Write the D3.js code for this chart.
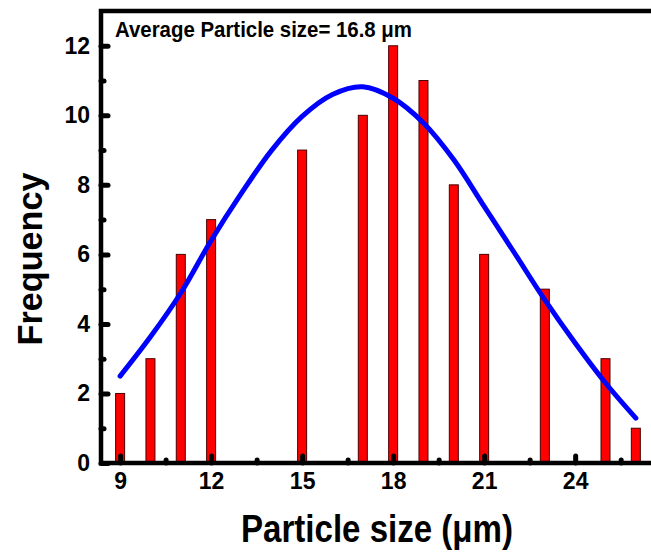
<!DOCTYPE html>
<html>
<head>
<meta charset="utf-8">
<script src="https://cdn.jsdelivr.net/npm/d3@7"></script>
<style>
    body { margin: 0; background: #fff; }
    text { font-family: Arial, "Liberation Sans", sans-serif; font-weight: bold; fill: #000; }
</style>
</head>
<body>
<div id="chart"></div>
<script>
// Histogram counts per particle size (um).
var sizes = [9, 10, 11, 12, 15, 17, 18, 19, 20, 21, 23, 25, 26];
var counts = [2, 3, 6, 7, 9, 10, 12, 11, 8, 6, 5, 3, 1];

// Fitted curve.
var fitSizes = [9, 10, 11, 12, 13, 14, 15, 16, 17, 18, 19, 20, 21, 22, 23, 24, 25, 26];
var fitCounts = [2.5, 3.63, 4.89, 6.4, 7.76, 9.0, 9.97, 10.6, 10.82, 10.49, 9.78, 8.72, 7.38, 6.04, 4.69, 3.45, 2.3, 1.29];

// Tick labels.
var xTicks = [9, 12, 15, 18, 21, 24];
var xMinorTicks = [10.5, 13.5, 16.5, 19.5, 22.5, 25.5];
var yTicks = [0, 2, 4, 6, 8, 10, 12];
var yMinorTicks = [1, 3, 5, 7, 9, 11];

var svgWidth = 651;
var svgHeight = 552;

var plotLeft = 101, plotRight = 651, plotTop = 11, plotBottom = 463;

var svg = d3.select('#chart').append('svg')
    .attr('width', svgWidth)
    .attr('height', svgHeight);

var x = d3.scaleLinear().domain([8.37, 26.5]).range([plotLeft, plotRight]);
var y = d3.scaleLinear().domain([0, 13]).range([plotBottom, plotTop]);

// Bars.
var barWidth = 9;
svg.selectAll('rect.bar')
   .data(counts)
   .enter()
   .append('rect')
   .attr('class', 'bar')
   .attr('x', function (d, i) { return x(sizes[i]) - barWidth / 2; })
   .attr('y', function (d) { return y(d); })
   .attr('width', barWidth)
   .attr('height', function (d) { return y(0) - y(d); })
   .attr('fill', '#ff0000')
   .attr('stroke', '#4a0000')
   .attr('stroke-width', 1);

// Fit curve.
var line = d3.line()
    .x(function (d, i) { return x(fitSizes[i]); })
    .y(function (d) { return y(d); })
    .curve(d3.curveCatmullRom.alpha(0.5));

svg.append('path')
   .datum(fitCounts)
   .attr('d', line)
   .attr('fill', 'none')
   .attr('stroke', '#0000ff')
   .attr('stroke-width', 5)
   .attr('stroke-linecap', 'round');

// Axes.
function styleAxis(g) {
    g.attr('font-size', null).attr('font-family', null);
    g.select('.domain').remove();
    g.selectAll('.tick line')
     .attr('stroke', '#000')
     .attr('stroke-width', 5)
     .attr('stroke-linecap', 'round');
    g.selectAll('.tick text')
     .style('font-size', '23px')
     .style('font-weight', 'bold');
}

svg.append('g')
   .attr('transform', 'translate(0,' + plotBottom + ')')
   .call(d3.axisBottom(x).tickValues(xTicks).tickSize(-7).tickPadding(10))
   .call(styleAxis);

svg.append('g')
   .attr('transform', 'translate(0,' + plotBottom + ')')
   .call(d3.axisBottom(x).tickValues(xMinorTicks).tickSize(-3).tickFormat(''))
   .call(styleAxis);

svg.append('g')
   .attr('transform', 'translate(' + plotLeft + ',0)')
   .call(d3.axisLeft(y).tickValues(yTicks).tickSize(-7).tickPadding(11))
   .call(styleAxis);

svg.append('g')
   .attr('transform', 'translate(' + plotLeft + ',0)')
   .call(d3.axisLeft(y).tickValues(yMinorTicks).tickSize(-3).tickFormat(''))
   .call(styleAxis);

// Frame lines (left, top, bottom).
svg.append('path')
   .attr('d', 'M' + plotRight + ',' + plotTop + 'H' + plotLeft + 'V' + plotBottom + 'H' + plotRight)
   .attr('fill', 'none')
   .attr('stroke', '#000')
   .attr('stroke-width', 4.5);

// Titles.
svg.append('text')
   .attr('x', 115)
   .attr('y', 37)
   .attr('textLength', 297)
   .attr('lengthAdjust', 'spacingAndGlyphs')
   .style('font-size', '22px')
   .text('Average Particle size= 16.8 \u03bcm');

svg.append('text')
   .attr('x', 377)
   .attr('y', 542)
   .attr('text-anchor', 'middle')
   .attr('textLength', 272)
   .attr('lengthAdjust', 'spacingAndGlyphs')
   .style('font-size', '38px')
   .text('Particle size (\u03bcm)');

svg.append('text')
   .attr('transform', 'translate(42,259) rotate(-90)')
   .attr('text-anchor', 'middle')
   .attr('textLength', 173)
   .attr('lengthAdjust', 'spacingAndGlyphs')
   .style('font-size', '35px')
   .text('Frequency');
</script>
</body>
</html>
